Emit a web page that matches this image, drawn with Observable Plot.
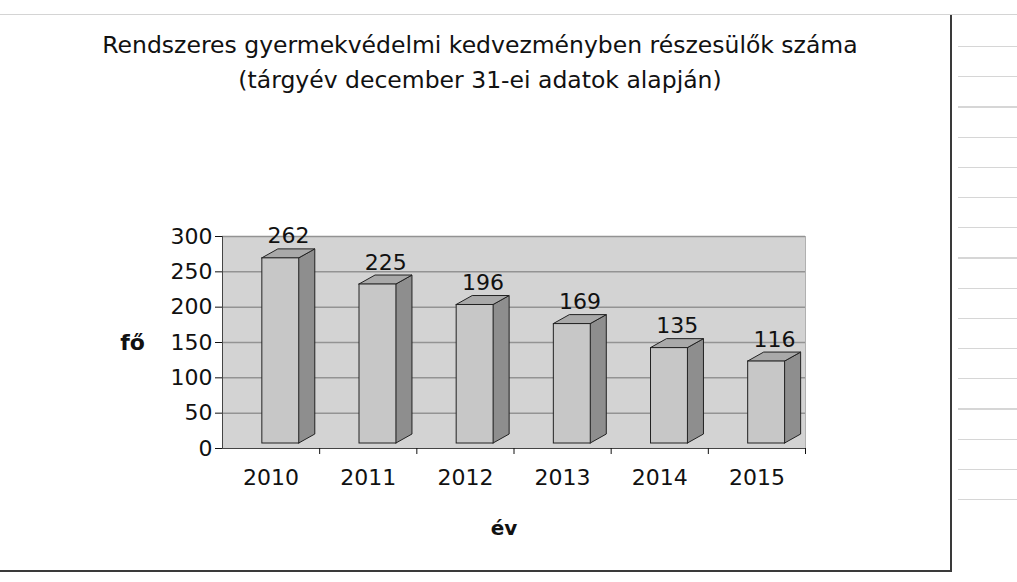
<!DOCTYPE html>
<html><head><meta charset="utf-8">
<script src="https://cdn.jsdelivr.net/npm/d3@7"></script>
<script src="https://cdn.jsdelivr.net/npm/@observablehq/plot@0.6"></script>
<style>
body{margin:0;background:#fff;}
#page{position:relative;width:1017px;height:582px;overflow:hidden;font-family:"DejaVu Sans",sans-serif;background:#fff;}
#box{position:absolute;left:-2px;top:14px;width:952px;height:555px;border-top:1px solid #d4d4d4;border-right:2px solid #3a3a3a;border-bottom:2px solid #3a3a3a;}
#title{position:absolute;left:0;width:960px;top:28px;text-align:center;font-size:23.5px;line-height:35px;color:#111;}
#chart{position:absolute;left:0;top:0;}
#lines{position:absolute;left:958px;top:17px;width:59px;height:490px;background:repeating-linear-gradient(to bottom,transparent 0px,transparent 29px,#d6d6d6 29px,#d6d6d6 30.2px);}
#topline{position:absolute;left:950px;top:14px;width:67px;height:1px;background:#d4d4d4;}
</style>
</head><body>
<div id="page">
  <div id="box"></div>
  <div id="lines"></div>
  <div id="topline"></div>
  <div id="chart"></div>
  <div id="title">Rendszeres gyermekvédelmi kedvezményben részesülők száma<br>(tárgyév december 31-ei adatok alapján)</div>
</div>
<script>
const years = [2010, 2011, 2012, 2013, 2014, 2015];
const counts = [262, 225, 196, 169, 135, 116];
const yTicks = [0, 50, 100, 150, 200, 250, 300];
const xTitle = "év";
const yTitle = "fő";

const rows = years.map((year, i) => ({year, value: counts[i]}));
// 3D bar geometry (in scale units)
const FL = -0.09, FR = 0.29, DX = 0.165, DY = 12.7;
const sideRows = rows.flatMap(d => [
  {year: d.year, x: d.year + FR, y1: 0, y2: d.value},
  {year: d.year, x: d.year + FR + DX, y1: DY, y2: d.value + DY}
]);
const topRows = rows.flatMap(d => [
  {year: d.year, y: d.value, x1: d.year + FL, x2: d.year + FR},
  {year: d.year, y: d.value + DY, x1: d.year + FL + DX, x2: d.year + FR + DX}
]);

const chart = Plot.plot({
  width: 1017,
  height: 582,
  marginLeft: 222,
  marginRight: 212,
  marginTop: 236,
  marginBottom: 134,
  x: {type: "linear", domain: [2009.5, 2015.5]},
  y: {domain: [0, 300]},
  style: {fontFamily: "DejaVu Sans, sans-serif", background: "transparent", color: "#111"},
  marks: [
    Plot.frame({fill: "#d3d3d3", stroke: "#b0b0b0"}),
    Plot.ruleY(yTicks.slice(1), {stroke: "#939393", strokeWidth: 1.5}),
    Plot.ruleX([2009.5], {stroke: "#444"}),
    Plot.ruleY([0], {stroke: "#444"}),
    Plot.axisY({ticks: yTicks, tickSize: 7, tickPadding: 3, fontSize: 22, label: null}),
    Plot.axisX({ticks: years, tickSize: 0, tickPadding: 21, fontSize: 22, tickFormat: "d", label: null}),
    Plot.axisX({ticks: years.map(y => y + 0.5), tickSize: 6, tickFormat: () => "", label: null}),
    Plot.areaY(sideRows, {x: "x", y1: "y1", y2: "y2", z: "year", fill: "#8e8e8e", stroke: "#222", strokeWidth: 1, dy: -5}),
    Plot.areaX(topRows, {y: "y", x1: "x1", x2: "x2", z: "year", fill: "#a9a9a9", stroke: "#222", strokeWidth: 1, dy: -5}),
    Plot.rect(rows, {x1: d => d.year + FL, x2: d => d.year + FR, y1: 0, y2: "value", fill: "#c7c7c7", stroke: "#222", strokeWidth: 1, dy: -5}),
    Plot.text(rows, {x: d => d.year + 0.18, y: "value", text: d => String(d.value), dy: -27, fontSize: 22, fill: "#111"}),
    Plot.text([yTitle], {frameAnchor: "left", textAnchor: "middle", lineAnchor: "middle", dx: -90, fontWeight: "bold", fontSize: 22, fill: "#111"}),
    Plot.text([xTitle], {frameAnchor: "bottom", textAnchor: "middle", lineAnchor: "middle", dx: -10, dy: 80, fontWeight: "bold", fontSize: 20, fill: "#111"})
  ]
});
document.getElementById("chart").appendChild(chart);
</script>
</body></html>
